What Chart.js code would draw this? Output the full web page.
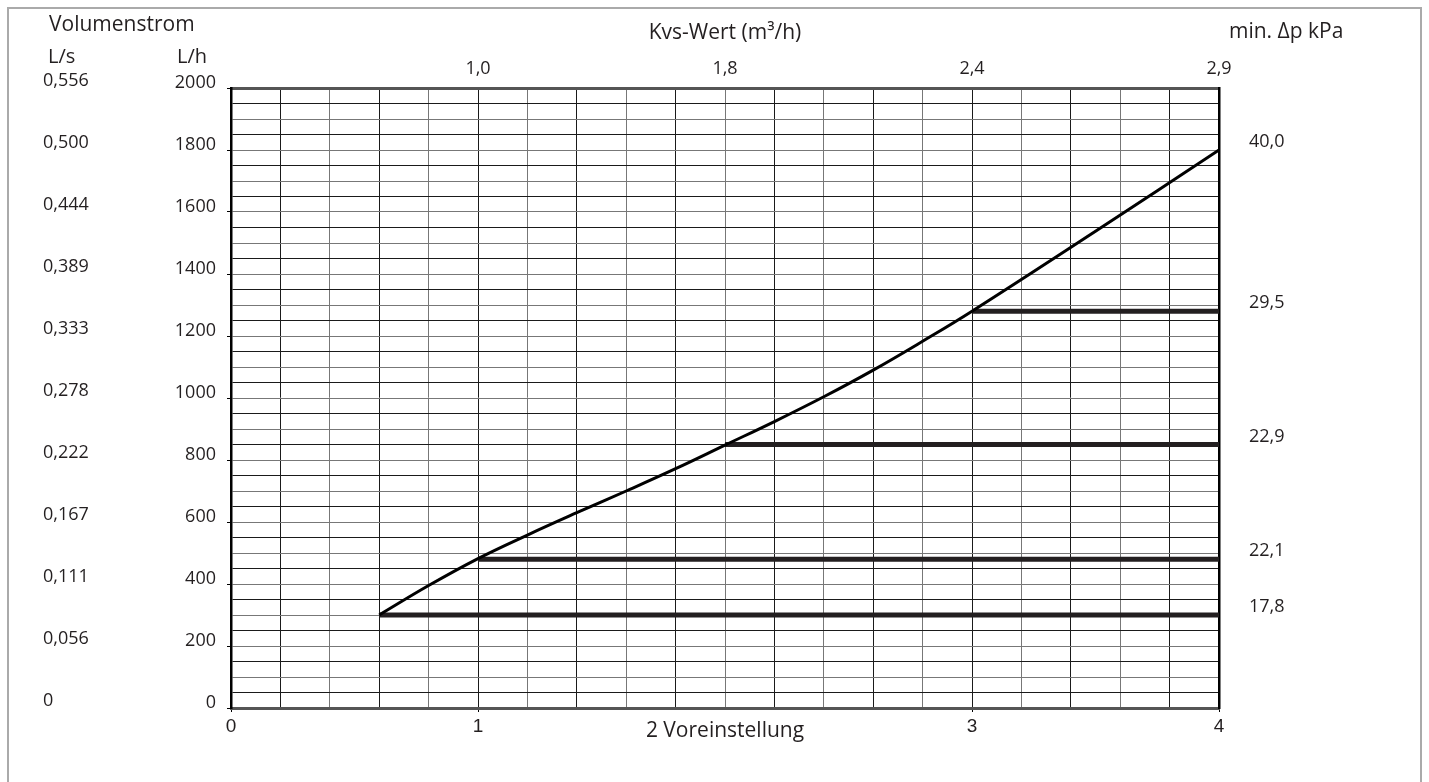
<!DOCTYPE html>
<html>
<head>
<meta charset="utf-8">
<script src="https://cdn.jsdelivr.net/npm/chart.js@4/dist/chart.umd.min.js"></script>
<style>
  html, body { margin: 0; padding: 0; background: #fff; overflow: hidden; }
  #wrap { position: relative; width: 1429px; height: 782px; }
  #frame { position: absolute; left: 7px; top: 7px; width: 1411px; height: 820px; border: 2px solid #aaa; }
  #chart { position: absolute; left: 0; top: 0; }
</style>
</head>
<body>
<div id="wrap">
  <div id="frame"></div>
  <canvas id="chart" width="1429" height="782"></canvas>
</div>
<script>
// ---- data ----
// Voreinstellung (x) vs. Volumenstrom L/h (y)
const curveX = [0.6, 0.8, 1.0, 1.2, 1.4, 1.6, 1.8, 2.0, 2.2, 2.4, 2.6, 2.8, 3.0, 3.5, 4.0];
const curveY = [300, 395, 482, 558, 630, 700, 772, 848, 924, 1004, 1090, 1183, 1280, 1538, 1800];

// min. Δp lines: flow level, where they start on the curve, label on the right
const dpFlow = [300, 480, 850, 1280, 1800];
const dpStartX = [0.6, 1.0, 2.0, 3.0];
const dpLabels = ["17,8", "22,1", "22,9", "29,5", "40,0"];

// axes
const lhTicks = [0, 200, 400, 600, 800, 1000, 1200, 1400, 1600, 1800, 2000];
const lsLabels = ["0", "0,056", "0,111", "0,167", "0,222", "0,278", "0,333", "0,389", "0,444", "0,500", "0,556"];
const presetTicks = [0, 1, 3, 4];
const presetLabels = ["0", "1", "3", "4"];
const kvsTicks = [1, 2, 3, 4];
const kvsLabels = ["1,0", "1,8", "2,4", "2,9"];

const X_MAX = 4;
const Y_MAX = 2000;
const TEXT = "#231f20";
const FONT = "'Open Sans', sans-serif";

const near = (a, b) => Math.abs(a - b) < 1e-6;
const gridShade = (ctx) => (ctx.index % 2 ? "#1a1a1a" : "#777");

const datasets = [
  {
    data: curveX.map((x, i) => ({ x, y: curveY[i] })),
    borderColor: "#000",
    borderWidth: 3,
    pointRadius: 0,
    tension: 0.4,
    order: 1,
  },
];
dpStartX.forEach((x0, i) => {
  datasets.push({
    data: [{ x: x0, y: dpFlow[i] }, { x: X_MAX, y: dpFlow[i] }],
    borderColor: "#231f20",
    borderWidth: 5,
    pointRadius: 0,
    order: 2,
  });
});

// header texts that sit outside the axes
const headerText = {
  id: "headerText",
  afterDraw(chart) {
    const { ctx, chartArea } = chart;
    const yls = chart.scales.yls;
    const y = chart.scales.y;
    ctx.save();
    ctx.fillStyle = TEXT;
    ctx.textBaseline = "middle";
    ctx.font = "21px " + FONT;
    ctx.textAlign = "left";
    ctx.fillText("Volumenstrom", yls.left + 6, 25);
    ctx.fillText("min. Δp kPa", chartArea.right + 10, 32);
    ctx.font = "20px " + FONT;
    ctx.fillText("L/s", yls.left + 5, 57);
    ctx.textAlign = "right";
    ctx.fillText("L/h", y.right - 24, 57);
    ctx.restore();
  },
};

new Chart(document.getElementById("chart"), {
  type: "line",
  data: { datasets },
  plugins: [headerText],
  options: {
    responsive: false,
    animation: false,
    devicePixelRatio: 1,
    layout: { padding: { left: 43, right: 90, top: 20, bottom: 34 } },
    plugins: { legend: { display: false }, tooltip: { enabled: false } },
    scales: {
      x: {
        type: "linear",
        position: "bottom",
        min: 0,
        max: X_MAX,
        afterFit: (s) => { s.height = 40; },
        ticks: {
          stepSize: 0.2,
          autoSkip: false,
          maxRotation: 0,
          padding: 3,
          color: TEXT,
          font: { family: "'Liberation Sans', Arial, sans-serif", size: 19 },
          callback: (v) => {
            const i = presetTicks.findIndex((t) => near(t, v));
            return i >= 0 ? presetLabels[i] : "";
          },
        },
        grid: {
          color: gridShade,
          lineWidth: 1,
          tickLength: 4,
          tickColor: (ctx) => (ctx.tick && presetTicks.some((t) => near(t, ctx.tick.value)) ? "#000" : "rgba(0,0,0,0)"),
        },
        border: { color: "#555", width: 3 },
        title: {
          display: true,
          text: "2 Voreinstellung",
          color: TEXT,
          font: { family: FONT, size: 21 },
          padding: { top: 0, bottom: 4 },
        },
      },
      x2: {
        type: "linear",
        position: "top",
        min: 0,
        max: X_MAX,
        afterFit: (s) => { s.height = 68; },
        afterBuildTicks: (s) => { s.ticks = kvsTicks.map((v) => ({ value: v })); },
        ticks: {
          autoSkip: false,
          maxRotation: 0,
          padding: 8,
          color: TEXT,
          font: { family: FONT, size: 18 },
          callback: (v, i) => kvsLabels[i],
        },
        grid: { display: false, drawTicks: false, drawOnChartArea: false },
        border: { display: true, color: "#555", width: 3 },
        title: {
          display: true,
          text: "Kvs-Wert (m³/h)",
          color: TEXT,
          font: { family: FONT, size: 21 },
          padding: { top: 0, bottom: 0 },
        },
      },
      y: {
        type: "linear",
        position: "left",
        weight: 1,
        min: 0,
        max: Y_MAX,
        afterFit: (s) => { s.width = 88; },
        ticks: {
          stepSize: 50,
          autoSkip: false,
          padding: 11,
          labelOffset: -5,
          color: TEXT,
          font: { family: FONT, size: 18 },
          callback: (v) => (lhTicks.includes(v) ? String(v) : ""),
        },
        grid: {
          color: gridShade,
          lineWidth: 1,
          tickLength: 4,
          tickColor: (ctx) => (ctx.tick && lhTicks.includes(ctx.tick.value) ? "#000" : "rgba(0,0,0,0)"),
        },
        border: { color: "#000", width: 2.5 },
      },
      yls: {
        type: "linear",
        position: "left",
        weight: 2,
        min: 0,
        max: Y_MAX,
        afterFit: (s) => { s.width = 100; },
        afterBuildTicks: (s) => { s.ticks = lhTicks.map((v) => ({ value: v })); },
        ticks: {
          autoSkip: false,
          crossAlign: "far",
          padding: 0,
          labelOffset: -7,
          color: TEXT,
          font: { family: FONT, size: 18 },
          callback: (v, i) => lsLabels[i],
        },
        grid: { display: false, drawTicks: false, drawOnChartArea: false },
        border: { display: false },
      },
      dp: {
        type: "linear",
        position: "right",
        min: 0,
        max: Y_MAX,
        afterFit: (s) => { s.width = 120; },
        afterBuildTicks: (s) => { s.ticks = dpFlow.map((v) => ({ value: v })); },
        ticks: {
          autoSkip: false,
          padding: 30,
          labelOffset: -8,
          color: TEXT,
          font: { family: FONT, size: 18 },
          callback: (v, i) => dpLabels[i],
        },
        grid: { display: false, drawTicks: false, drawOnChartArea: false },
        border: { display: true, color: "#000", width: 2.5 },
      },
    },
  },
});
</script>
</body>
</html>
